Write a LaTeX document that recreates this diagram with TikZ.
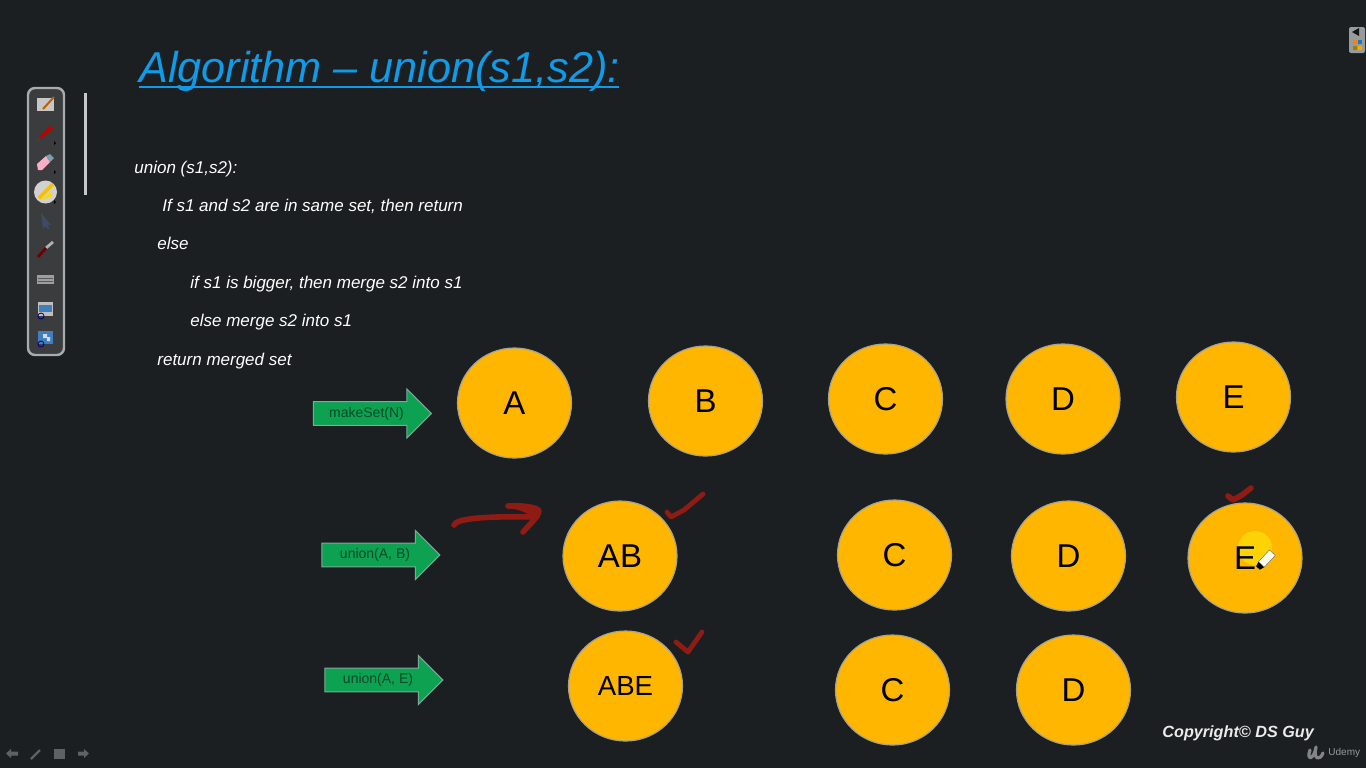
\documentclass[tikz,border=0pt]{standalone}
\usepackage{fontspec}
\setmainfont{Liberation Sans}
\usetikzlibrary{shapes.geometric,shapes.arrows}
\definecolor{bgc}{HTML}{1B1F21}
\definecolor{gold}{HTML}{FFB600}
\definecolor{ringc}{HTML}{A8A290}
\definecolor{arrowg}{HTML}{0DA152}
\definecolor{arrowl}{HTML}{7FA89A}
\definecolor{arrowt}{HTML}{084A27}
\definecolor{inkred}{HTML}{8E1C14}
\definecolor{titleblue}{HTML}{0F9BE8}
\definecolor{barfill}{HTML}{3A3C3D}
\definecolor{barline}{HTML}{A9ACAC}
\definecolor{slate}{HTML}{3E4A66}
\definecolor{winblue}{HTML}{3F7FC0}
\tikzset{
  x=0.5pt,y=-0.5pt,
  setnode/.style={ellipse,draw=ringc,line width=0.6pt,fill=gold,minimum width=57pt,minimum height=55pt,inner sep=0pt,text=black,font=\fontsize{16.5}{18}\selectfont},
  opnode/.style={single arrow,draw=arrowl,line width=0.5pt,fill=arrowg,minimum height=59pt,minimum width=24.5pt,single arrow head extend=4.8pt,single arrow tip angle=90,inner sep=1pt,text=arrowt,font=\fontsize{7}{8}\selectfont},
  codeline/.style={anchor=base west,inner sep=0pt,text=white,font=\fontsize{8.5}{10}\selectfont\itshape},
  inkstroke/.style={draw=inkred,line width=2.4pt,line cap=round,line join=round},
  dimicon/.style={fill=white!30!bgc,draw=none}
}
\begin{document}
\begin{tikzpicture}
\useasboundingbox (0,0) rectangle (1366,768);
\fill[bgc] (0,0) rectangle (1366,768);
% title
\node[anchor=base west,inner sep=0pt,text=titleblue,font=\fontsize{21.6}{24}\selectfont\itshape] (title) at (139,82) {Algorithm – union(s1,s2):};
\draw[titleblue,line width=1pt] (139,86.5) -- (619,86.5);
% code
\node[codeline] (c1) at (134,173.5) {union (s1,s2):};
\node[codeline] (c2) at (162,211) {If s1 and s2 are in same set, then return};
\node[codeline] (c3) at (157,249.5) {else};
\node[codeline] (c4) at (190,288.5) {if s1 is bigger, then merge s2 into s1};
\node[codeline] (c5) at (190,326.5) {else merge s2 into s1};
\node[codeline] (c6) at (157,365) {return merged set};
% operation arrows
\node[opnode] (op1) at (366.5,413.5) {\raisebox{-1pt}{makeSet(N)}};
\node[opnode] (op2) at (375,555) {\raisebox{-1pt}{union(A, B)}};
\node[opnode] (op3) at (378,680) {\raisebox{-1pt}{union(A, E)}};
% sets
\node[setnode] (a1) at (514.5,403) {A};
\node[setnode] (b1) at (705.5,401) {B};
\node[setnode] (c1n) at (885.5,399) {C};
\node[setnode] (d1) at (1063,399) {D};
\node[setnode] (e1) at (1233.5,397) {E};
\node[setnode] (ab2) at (620,556) {AB};
\node[setnode] (c2n) at (894.5,555) {C};
\node[setnode] (d2) at (1068.5,556) {D};
\node[setnode] (e2) at (1245,558) {};
\node[setnode,font=\fontsize{13.8}{16}\selectfont] (abe3) at (625.5,686) {ABE};
\node[setnode] (c3n) at (892.5,690) {C};
\node[setnode] (d3) at (1073.5,690) {D};
% highlighter and E
\fill[yellow!50!gold] (1255,548) circle[radius=17];
\node[text=black,inner sep=0pt,font=\fontsize{16.5}{18}\selectfont] (e2t) at (1245,558) {E};
% pen cursor
\begin{scope}[shift={(1258,568)},rotate=47]
  \fill[black] (0,-2.5) -- (5,-4) -- (5,4) -- (0,2.5) -- cycle;
  \fill[white!92!yellow,draw=black!60,line width=0.2pt] (5,-4) rectangle (21,4);
\end{scope}
% red ink
\draw[inkstroke,line width=2.8pt] (454,525) .. controls (456,518) and (490,516) .. (537,517)
   .. controls (530,510) and (515,505) .. (508,506) .. controls (520,505) and (538,507) .. (539,511)
   .. controls (538,517) and (530,524) .. (523,532);
\draw[inkstroke] (667,512) -- (671,517) -- (684,510) -- (703,494);
\draw[inkstroke] (676,642) -- (688,652) -- (702,632);
\draw[inkstroke,line width=2.8pt] (1228,496) -- (1233,500) -- (1242,495) -- (1251,488);
% copyright
\node[anchor=west,inner sep=0pt,text=white!92!black,font=\fontsize{8.1}{10}\selectfont\bfseries\itshape] (copy) at (1162,733) {Copyright© DS Guy};
\node[anchor=west,inner sep=0pt,text=white!55!bgc,font=\fontsize{5}{6}\selectfont] (ud) at (1328,753) {Udemy};
\draw[white!45!bgc,line width=1.6pt,line cap=round,line join=round] (1310,750) .. controls (1306,761) and (1314,760) .. (1316,747) .. controls (1313,760) and (1320,761) .. (1323,753);
% slide marker
\fill[white!75!bgc] (84,93) rectangle (87,195);
% toolbar
\draw[barline,fill=barfill,line width=1.2pt,rounded corners=3.5pt] (28,88) rectangle (64,355);
% icon 1 notepad with pencil
\fill[white!78!black] (37,98) rectangle (54,111);
\draw[orange!75!black,line width=1pt] (43,109) -- (54,97);
% icon 2 red pen
\draw[red!75!black,line width=1.7pt] (40,138) -- (52,127);
\draw[black!75,line width=0.8pt] (38,141) -- (40,138);
\fill[black] (54,141) -- (56,143) -- (54,145) -- cycle;
% icon 3 eraser
\fill[pink!90!magenta] (37,164) -- (46,156) -- (50,162) -- (42,170) -- (38,170) -- cycle;
\fill[cyan!35!gray] (46,156) -- (50,154) -- (54,158) -- (50,162) -- cycle;
\fill[black] (54,170) -- (56,172) -- (54,174) -- cycle;
% icon 4 highlighter selected
\fill[white!82!black] (45.5,192) circle[radius=11.5];
\fill[yellow!60!gold] (40,200) -- (51,197) -- (52,191) -- cycle;
\draw[yellow!60!orange!95!black,line width=1.8pt] (39,198) -- (53,184);
\fill[black] (54,200) -- (56,202) -- (54,204) -- cycle;
% icon 5 arrow
\fill[slate] (41,213) -- (51,225) -- (47.5,225.5) -- (50,228) -- (48,229) -- (45,226) -- (43,229) -- cycle;
% icon 6 pen dark
\draw[white!70!black,line width=1.4pt] (46,248) -- (53,242);
\draw[red!45!black,line width=1.4pt] (38,257) -- (46,248);
% icon 7 keyboard
\fill[white!62!black] (37,275) rectangle (54,284);
\draw[white!35!black,line width=0.2pt] (38,278) -- (53,278) (38,281) -- (53,281);
% icon 8 window
\fill[white!75!black] (38,302) rectangle (53,316);
\fill[winblue] (39,305) rectangle (52,312);
\draw[blue!45!black,line width=0.4pt] (41,316) circle[radius=3];
% icon 9 window pair
\fill[winblue] (38,331) rectangle (53,344);
\fill[white!85!black] (43,334) rectangle (47,338) (47,337) rectangle (50,341);
\draw[blue!45!black,line width=0.4pt] (41,344) circle[radius=3];
% bottom dim nav
\fill[dimicon] (6,753.5) -- (11,749) -- (11,751.5) -- (18,751.5) -- (18,755.5) -- (11,755.5) -- (11,758) -- cycle;
\draw[white!30!bgc,line width=1.2pt] (31,759) -- (40,750);
\fill[dimicon] (54,749) rectangle (65,759);
\fill[dimicon] (89,753.5) -- (84,749) -- (84,751.5) -- (78,751.5) -- (78,755.5) -- (84,755.5) -- (84,758) -- cycle;
% top right widget
\fill[white!55!bgc,rounded corners=1pt] (1349,27) rectangle (1365,53);
\fill[bgc!70!black] (1352,32) -- (1359,28) -- (1359,36) -- cycle;
\fill[orange] (1353,40) rectangle (1357,44);
\fill[cyan!60!blue] (1358,40) rectangle (1362,44);
\fill[olive] (1353,46) rectangle (1357,50);
\fill[orange!70!yellow] (1358,46) rectangle (1362,50);
\end{tikzpicture}
\end{document}
